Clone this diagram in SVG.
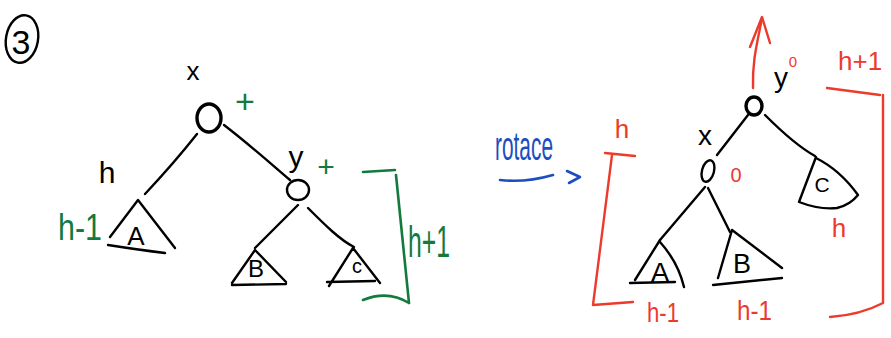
<svg xmlns="http://www.w3.org/2000/svg" width="891" height="338" viewBox="0 0 891 338">
<style>
.ink{fill:none;stroke:#000;stroke-width:2.4;stroke-linecap:round;stroke-linejoin:round}
.node{fill:none;stroke:#000;stroke-width:3.4}
.g{fill:none;stroke:#127a3d;stroke-width:2.6;stroke-linecap:round;stroke-linejoin:round}
.r{fill:none;stroke:#ec3a2c;stroke-width:2.4;stroke-linecap:round;stroke-linejoin:round}
.b{fill:none;stroke:#1c4fbd;stroke-width:2.6;stroke-linecap:round;stroke-linejoin:round}
text{font-family:"Liberation Sans",Arial,sans-serif}
.tk{fill:#000}
.tg{fill:#127a3d}
.tr{fill:#ec3a2c}
.tb{fill:#1c4fbd}
</style>
<rect width="891" height="338" fill="#fff"/>

<g id="step-number">
  <ellipse cx="22" cy="39" rx="16" ry="24" transform="rotate(10 22 39)" class="ink"/>
  <text x="21" y="54" font-size="34" text-anchor="middle" class="tk">3</text>
</g>

<g id="connectors">
  <path class="ink" d="M145,194 C160,178 178,158 197,134"/>
  <path class="ink" d="M224,125 C250,145 270,163 290,180"/>
  <path class="ink" d="M298,205 L255,248"/>
  <path class="ink" d="M308,208 C325,225 340,240 354,247"/>
  <path class="ink" d="M748,115 L717,155"/>
  <path class="ink" d="M765,115 Q795,145 815,156"/>
  <path class="ink" d="M705,187 L660,240"/>
  <path class="ink" d="M708,188 L730,232"/>
  <path class="b" d="M500,180 Q525,183 553,175"/>
  <path class="b" d="M567,171 L580,177 L569,183"/>
  <path class="r" d="M753,88 C752,60 758,40 762,18"/>
  <path class="r" d="M750,47 L762,17 L770,43"/>
</g>

<g id="left-x">
  <ellipse cx="209" cy="118" rx="12" ry="14" class="node"/>
  <text x="193" y="80" font-size="26" text-anchor="middle" class="tk">x</text>
  <text x="245" y="113" font-size="34" text-anchor="middle" class="tg">+</text>
</g>

<g id="left-y">
  <ellipse cx="298" cy="190" rx="11" ry="10" class="ink"/>
  <text x="296" y="167" font-size="30" text-anchor="middle" class="tk">y</text>
  <text x="326" y="177" font-size="30" text-anchor="middle" class="tg">+</text>
</g>

<g id="left-A">
  <path class="ink" d="M110,237 L138,200 L175,248 M108,245 Q140,250 165,253"/>
  <text x="136" y="245" font-size="26" text-anchor="middle" class="tk">A</text>
  <text x="107" y="183" font-size="30" text-anchor="middle" class="tk">h</text>
  <text x="58" y="240" font-size="36" textLength="44" lengthAdjust="spacingAndGlyphs" class="tg">h-1</text>
</g>

<g id="left-B">
  <path class="ink" d="M232,283 L255,250 L286,282 M232,285 L286,284"/>
  <text x="256" y="277" font-size="24" text-anchor="middle" class="tk">B</text>
</g>

<g id="left-C">
  <path class="ink" d="M329,286 L353,248 L380,283 M327,282 L375,281"/>
  <text x="357" y="273" font-size="20" text-anchor="middle" class="tk">c</text>
</g>

<g id="left-height">
  <path class="g" d="M363,172 L395,170 M396,175 L409,303 M363,300 Q388,290 409,303"/>
  <text x="408" y="257" font-size="44" textLength="42" lengthAdjust="spacingAndGlyphs" class="tg">h+1</text>
</g>

<g id="rotate-label">
  <text x="495" y="160" font-size="40" textLength="58" lengthAdjust="spacingAndGlyphs" class="tb">rotace</text>
</g>

<g id="right-y">
  <ellipse cx="754" cy="106" rx="8" ry="9" class="node"/>
  <text x="781" y="87" font-size="28" text-anchor="middle" class="tk">y</text>
  <text x="793" y="67" font-size="15" text-anchor="middle" class="tr">0</text>
</g>

<g id="right-x">
  <ellipse cx="708" cy="171" rx="6" ry="11" transform="rotate(15 708 171)" class="ink"/>
  <text x="705" y="145" font-size="28" text-anchor="middle" class="tk">x</text>
  <text x="736" y="182" font-size="20" text-anchor="middle" class="tr">0</text>
</g>

<g id="right-C">
  <path class="ink" d="M816,157 L799,202 Q820,210 837,208 Q850,205 858,195 Q840,170 816,158"/>
  <text x="822" y="192" font-size="21" text-anchor="middle" class="tk">C</text>
  <text x="839" y="237" font-size="26" text-anchor="middle" class="tr">h</text>
</g>

<g id="right-A">
  <path class="ink" d="M635,280 L660,240 M660,242 Q678,262 684,287 M630,283 L675,282"/>
  <text x="660" y="282" font-size="28" text-anchor="middle" class="tk">A</text>
  <text x="647" y="322" font-size="28" textLength="32" lengthAdjust="spacingAndGlyphs" class="tr">h-1</text>
</g>

<g id="right-B">
  <path class="ink" d="M732,230 L718,278 M732,230 L782,268"/>
  <path class="ink" stroke-width="3.4" d="M713,285 L782,278"/>
  <text x="742" y="273" font-size="27" text-anchor="middle" class="tk">B</text>
  <text x="737" y="320" font-size="28" textLength="35" lengthAdjust="spacingAndGlyphs" class="tr">h-1</text>
</g>

<g id="right-left-height">
  <path class="r" d="M605,153 L635,156 M612,155 L593,305 L633,302"/>
  <text x="622" y="138" font-size="26" text-anchor="middle" class="tr">h</text>
</g>

<g id="right-height">
  <path class="r" d="M827,88 L880,95 M883,95 L883,303 Q860,315 830,317"/>
  <text x="838" y="70" font-size="26" class="tr">h+1</text>
</g>
</svg>
